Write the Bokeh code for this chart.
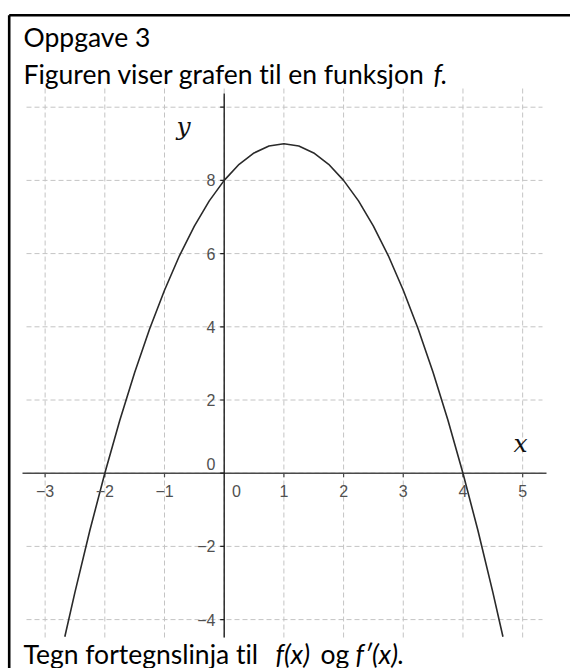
from bokeh.plotting import figure
from bokeh.models import Range1d
from bokeh.core.properties import value
from bokeh.embed import file_html
from bokeh.resources import INLINE

# Values of f
curve_x = [-2.67, -2.5, -2.25, -2.0, -1.75, -1.5, -1.25, -1.0, -0.75, -0.5, -0.25,
           0.0, 0.25, 0.5, 0.75, 1.0, 1.25, 1.5, 1.75, 2.0, 2.25, 2.5, 2.75,
           3.0, 3.25, 3.5, 3.75, 4.0, 4.25, 4.5, 4.67]
curve_y = [-4.47, -3.25, -1.56, 0.0, 1.44, 2.75, 3.94, 5.0, 5.94, 6.75, 7.44,
           8.0, 8.44, 8.75, 8.94, 9.0, 8.94, 8.75, 8.44, 8.0, 7.44, 6.75, 5.94,
           5.0, 3.94, 2.75, 1.44, 0.0, -1.56, -3.25, -4.47]

x_ticks = [-3, -2, -1, 1, 2, 3, 4, 5]
x_tick_labels = ["−3", "−2", "−1", "1", "2", "3", "4", "5"]
x_grid = [-3, -2, -1, 0, 1, 2, 3, 4, 5]
y_ticks = [-4, -2, 2, 4, 6, 8]
y_tick_labels = ["−4", "−2", "2", "4", "6", "8"]
y_grid = [-4, -2, 0, 2, 4, 6, 8, 10]

W, H = 570, 668
X0, XS = 223.7, 59.69   # pixel of x = 0, pixels per x unit
Y0, YS = 472.7, 36.6    # pixel of y = 0, pixels per y unit


def dx(px):
    return (px - X0) / XS


def dy(py):
    return (Y0 - py) / YS


p = figure(width=W, height=H, output_backend="svg", toolbar_location=None,
           x_range=Range1d(dx(0), dx(W)), y_range=Range1d(dy(H), dy(0)),
           x_axis_location=None, y_axis_location=None,
           min_border=0, min_border_left=0, min_border_right=0,
           min_border_top=0, min_border_bottom=0)
p.outline_line_color = None
p.xgrid.visible = False
p.ygrid.visible = False
p.background_fill_color = "white"
p.border_fill_color = "white"

# plotting region
left, right = dx(26), dx(546)
top, bottom = dy(88), dy(637)

grid_color = "#c4c4c4"
p.segment(x0=x_grid, y0=[bottom] * len(x_grid), x1=x_grid, y1=[top] * len(x_grid),
          line_color=grid_color, line_width=1, line_dash="5 3")
p.segment(x0=[left] * len(y_grid), y0=y_grid, x1=[dx(542)] * len(y_grid), y1=y_grid,
          line_color=grid_color, line_width=1, line_dash="5 3")

# axes through the origin
p.segment(x0=[dx(22)], y0=[0], x1=[right], y1=[0], line_color="#4a4a4a", line_width=1.6)
p.segment(x0=[0], y0=[bottom], x1=[0], y1=[dy(93)], line_color="#202020", line_width=1.4)

# tick marks
tx = 4 / YS
p.segment(x0=x_ticks, y0=[0] * len(x_ticks), x1=x_ticks, y1=[-tx] * len(x_ticks),
          line_color="#4a4a4a", line_width=1.2)
ty = 4 / XS
p.segment(x0=[-ty] * len(y_grid), y0=y_grid, x1=[0] * len(y_grid), y1=y_grid,
          line_color="#202020", line_width=1.2)

# graph of f
p.line(curve_x, curve_y, line_color="#2a2a2a", line_width=1.6)

# tick labels
tick_font = value("Liberation Sans")
tick_color = "#505050"
p.text(x=x_ticks, y=[dy(490)] * len(x_ticks), text=x_tick_labels,
       text_font=tick_font, text_font_size="16px", text_color=tick_color,
       text_align="center", text_baseline="middle")
p.text(x=[dx(236)], y=[dy(490)], text=["0"],
       text_font=tick_font, text_font_size="16px", text_color=tick_color,
       text_align="center", text_baseline="middle")
p.text(x=[dx(215)] * len(y_ticks), y=y_ticks, text=y_tick_labels,
       text_font=tick_font, text_font_size="16px", text_color=tick_color,
       text_align="right", text_baseline="middle")
p.text(x=[dx(215)], y=[dy(463.5)], text=["0"],
       text_font=tick_font, text_font_size="16px", text_color=tick_color,
       text_align="right", text_baseline="middle")

# axis names
axis_font = value("DejaVu Serif")
p.text(x=[dx(176)], y=[dy(126)], text=["y"], text_font=axis_font,
       text_font_style="italic", text_font_size="25px", text_color="#111111",
       text_align="left", text_baseline="alphabetic")
p.text(x=[dx(513)], y=[dy(443)], text=["x"], text_font=axis_font,
       text_font_style="italic", text_font_size="25px", text_color="#111111",
       text_align="left", text_baseline="alphabetic")

# frame of the exercise box
p.segment(x0=[dx(8.7), dx(8.7)], y0=[dy(14.7), dy(14.7)], x1=[dx(W + 5), dx(8.7)],
          y1=[dy(14.7), dy(H + 5)], line_color="black", line_width=2.6)

# exercise text
body_font = value("Lato")
body_size = "26.5px"
lift = 9  # baseline correction in pixels


def words(px, py, s, italic=False):
    p.text(x=[dx(px)], y=[dy(py - lift)], text=[s], text_font=body_font,
           text_font_style="italic" if italic else "normal",
           text_font_size=body_size, text_color="black",
           text_align="left", text_baseline="alphabetic")


words(23, 45, "Oppgave 3")
words(23, 82, "Figuren viser grafen t\u200cil en funksjon")
words(433, 82, "f.", italic=True)
words(23, 662, "Tegn fortegnslinja t\u200cil")
words(275, 662, "f(x)", italic=True)
words(320, 662, "og")
words(355, 662, "f′(x).", italic=True)

open("out.html", "w").write(file_html(p, INLINE))
